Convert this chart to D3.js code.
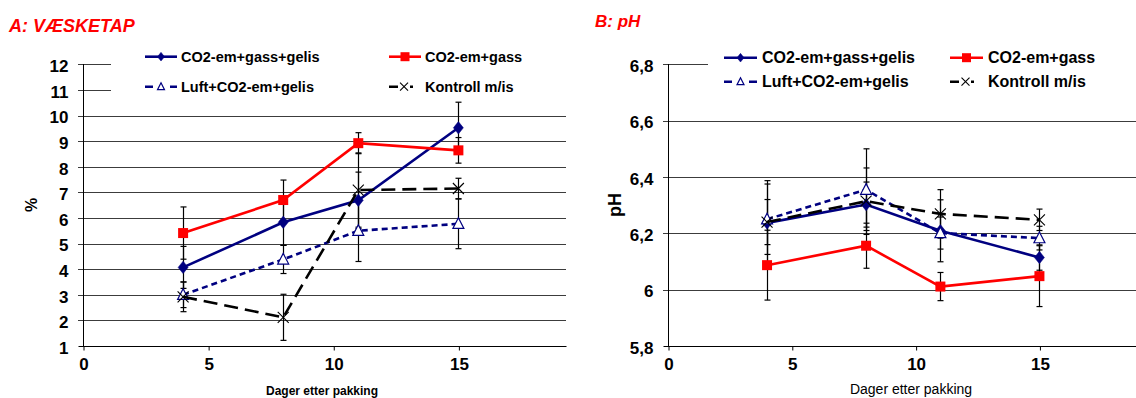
<!DOCTYPE html>
<html>
<head>
<meta charset="utf-8">
<script src="https://cdn.jsdelivr.net/npm/d3@7"></script>
<style>
  html, body { margin: 0; padding: 0; background: #fff; }
  svg { display: block; }
  text { font-family: "Liberation Sans", Arial, sans-serif; }
</style>
</head>
<body>
<svg id="chart" width="1136" height="398"></svg>
<script>
// ---------- DATA ----------
const days = [4, 8, 11, 15];
const xTicks = [0, 5, 10, 15];
const seriesNames = ["CO2-em+gass+gelis", "CO2-em+gass", "Luft+CO2-em+gelis", "Kontroll m/is"];

// A: Væsketap (%)
const aTicks = [1, 2, 3, 4, 5, 6, 7, 8, 9, 10, 11, 12];
const aGelis = [4.07, 5.83, 6.69, 9.52];
const aGass = [5.41, 6.70, 8.92, 8.64];
const aLuft = [3.00, 4.38, 5.50, 5.77];
const aKontroll = [2.92, 2.12, 7.09, 7.15];
const aGelisErr = [0.82, 0.90, 1.10, 1.00];
const aGassErr = [1.02, 0.78, 0.41, 0.50];
const aLuftErr = [0.50, 0.55, 1.20, 0.97];
const aKontrollErr = [0.58, 0.90, 1.45, 0.40];

// B: pH
const bTicks = [5.8, 6.0, 6.2, 6.4, 6.6, 6.8];
const bTickLabels = ["5,8", "6", "6,2", "6,4", "6,6", "6,8"];
const bGelis = [6.237, 6.302, 6.209, 6.114];
const bGass = [6.087, 6.156, 6.011, 6.048];
const bLuft = [6.250, 6.355, 6.201, 6.183];
const bKontroll = [6.240, 6.314, 6.269, 6.248];
const bGelisErr = [0.150, 0.080, 0.110, 0.045];
const bGassErr = [0.124, 0.080, 0.050, 0.108];
const bLuftErr = [0.125, 0.145, 0.057, 0.042];
const bKontrollErr = [0.080, 0.118, 0.086, 0.038];

// ---------- STYLES ----------
const styles = [
  { color: "#000080", dash: null, marker: "diamond" },
  { color: "#FF0000", dash: null, marker: "square" },
  { color: "#000080", dash: "6,4", marker: "triangle" },
  { color: "#000000", dash: "14,7", marker: "cross" }
];
const legendDash = [null, null, "8,17,8", "9,12,3,9"];

const svg = d3.select("#chart");
const FONT = '"Liberation Sans", Arial, sans-serif';

function drawMarker(g, type, cx, cy, s, color) {
  if (type === "diamond") {
    g.append("path").attr("d", `M${cx},${cy - s * 0.62}L${cx + s * 0.5},${cy}L${cx},${cy + s * 0.62}L${cx - s * 0.5},${cy}Z`)
      .attr("fill", color).attr("stroke", color).attr("stroke-width", 0.5);
  } else if (type === "square") {
    g.append("rect").attr("x", cx - s / 2).attr("y", cy - s / 2).attr("width", s).attr("height", s)
      .attr("fill", color);
  } else if (type === "triangle") {
    g.append("path").attr("d", `M${cx},${cy - s * 0.55}L${cx + s * 0.5},${cy + s * 0.42}L${cx - s * 0.5},${cy + s * 0.42}Z`)
      .attr("fill", "#fff").attr("stroke", color).attr("stroke-width", 1.2);
  } else if (type === "cross") {
    const h = s / 2;
    g.append("path").attr("d", `M${cx - h},${cy - h}L${cx + h},${cy + h}M${cx - h},${cy + h}L${cx + h},${cy - h}`)
      .attr("fill", "none").attr("stroke", color).attr("stroke-width", 1.1);
  }
}

function drawChart(cfg) {
  const g = svg.append("g");
  const x = d3.scaleLinear().domain(cfg.xDomain).range([cfg.left, cfg.right]);
  const y = d3.scaleLinear().domain(cfg.yDomain).range([cfg.bottom, cfg.top]);

  // gridlines (with tick extension to the left)
  g.append("g").selectAll("line").data(cfg.yTicks.slice(1)).join("line")
    .attr("x1", cfg.left - 5).attr("x2", cfg.right)
    .attr("y1", d => Math.round(y(d)) + 0.5).attr("y2", d => Math.round(y(d)) + 0.5)
    .attr("stroke", "#3c3c3c").attr("stroke-width", 1);

  // legend background (covers upper gridlines)
  g.append("rect").attr("x", cfg.legendBox[0]).attr("y", cfg.legendBox[1])
    .attr("width", cfg.legendBox[2]).attr("height", cfg.legendBox[3]).attr("fill", "#fff");

  // y axis
  const yAxis = d3.axisLeft(y).tickValues(cfg.yTicks).tickSize(5).tickPadding(cfg.yPad)
    .tickFormat((d, i) => cfg.yLabels[i]);
  const ya = g.append("g").attr("transform", `translate(${cfg.left + 0.5},0.5)`).call(yAxis);
  ya.select(".domain").remove();
  ya.selectAll("line").remove();
  ya.selectAll("text").attr("font-family", FONT).attr("font-size", cfg.tickFs).attr("font-weight", "bold")
    .attr("fill", "#000").attr("dy", "0.4em");
  g.append("line").attr("x1", cfg.left + 0.5).attr("x2", cfg.left + 0.5)
    .attr("y1", Math.round(y(cfg.yDomain[1]))).attr("y2", Math.round(y(cfg.yDomain[0])) + 1)
    .attr("stroke", "#000").attr("stroke-width", 1);

  // x axis
  const xAxis = d3.axisBottom(x).tickValues(xTicks).tickSize(4).tickPadding(7);
  const xa = g.append("g").attr("transform", `translate(0.5,${Math.round(y(cfg.yDomain[0])) + 0.5})`).call(xAxis);
  xa.select(".domain").attr("d", `M${cfg.left - 5},0H${cfg.right}`).attr("stroke", "#000");
  xa.selectAll(".tick line").attr("stroke", "#000");
  xa.selectAll("text").attr("font-family", FONT).attr("font-size", cfg.tickFs).attr("font-weight", "bold").attr("fill", "#000");

  // titles
  g.append("text").attr("x", cfg.titlePos[0]).attr("y", cfg.titlePos[1]).text(cfg.title)
    .attr("font-size", cfg.titleFs).attr("font-weight", "bold").attr("font-style", "italic").attr("fill", "#FF0000");
  g.append("text").attr("transform", `translate(${cfg.yTitlePos[0]},${cfg.yTitlePos[1]}) rotate(-90)`)
    .attr("text-anchor", "middle").attr("dominant-baseline", "central")
    .attr("font-size", cfg.yTitleFs).attr("font-weight", "bold").text(cfg.yTitle);
  g.append("text").attr("x", cfg.xTitlePos[0]).attr("y", cfg.xTitlePos[1]).attr("text-anchor", "middle")
    .attr("font-size", cfg.xTitleFs).attr("font-weight", cfg.xTitleWeight).text("Dager etter pakking");

  // error bars
  const eg = g.append("g");
  cfg.series.forEach((vals, si) => {
    vals.forEach((v, i) => {
      const e = cfg.errors[si][i];
      const cx = Math.round(x(days[i])) + 0.5;
      const y1 = y(v + e), y2 = y(v - e);
      eg.append("line").attr("x1", cx).attr("x2", cx).attr("y1", y1).attr("y2", y2)
        .attr("stroke", "#000").attr("stroke-width", 1.2);
      [y1, y2].forEach(yy => eg.append("line").attr("x1", cx - 3).attr("x2", cx + 3).attr("y1", yy).attr("y2", yy)
        .attr("stroke", "#000").attr("stroke-width", 1.2));
    });
  });

  // lines + markers
  const line = d3.line().x((d, i) => x(days[i])).y(d => y(d));
  cfg.series.forEach((vals, si) => {
    const st = styles[si];
    g.append("path").datum(vals).attr("d", line).attr("fill", "none")
      .attr("stroke", st.color).attr("stroke-width", 2.6)
      .attr("stroke-dasharray", st.dash);
    const mg = g.append("g");
    vals.forEach((v, i) => drawMarker(mg, st.marker, x(days[i]), y(v), cfg.markerSize[si], st.color));
  });

  // legend
  const lg = g.append("g");
  seriesNames.forEach((name, si) => {
    const col = si % 2, row = Math.floor(si / 2);
    const lx = cfg.legendCols[col], ly = cfg.legendRows[row];
    const st = styles[si];
    lg.append("line").attr("x1", lx).attr("x2", lx + cfg.legendLen).attr("y1", ly).attr("y2", ly)
      .attr("stroke", st.color).attr("stroke-width", 2.6).attr("stroke-dasharray", legendDash[si]);
    const mx = si === 3 ? lx + cfg.legendLen * 0.47 : lx + cfg.legendLen / 2;
    drawMarker(lg, st.marker, mx, ly, cfg.legendMarker[si], st.color);
    lg.append("text").attr("x", lx + cfg.legendLen + cfg.legendGap).attr("y", ly).attr("dy", "0.36em")
      .attr("font-size", cfg.legendFs).attr("font-weight", "bold").text(name);
  });
}

drawChart({
  title: "A: VÆSKETAP", titlePos: [9, 32], titleFs: 18,
  xDomain: [0, 19.3], yDomain: [1, 12], left: 83, right: 566, top: 64.3, bottom: 346,
  yTicks: aTicks, yLabels: aTicks.map(String), yPad: 10, tickFs: 17,
  yTitle: "%", yTitlePos: [31, 205], yTitleFs: 16,
  xTitlePos: [322, 395], xTitleFs: 12, xTitleWeight: "bold",
  series: [aGelis, aGass, aLuft, aKontroll],
  errors: [aGelisErr, aGassErr, aLuftErr, aKontrollErr],
  markerSize: [10, 10, 11, 11],
  legendBox: [111, 38, 460, 68],
  legendCols: [145, 389], legendRows: [56.7, 86.7], legendLen: 32, legendGap: 4,
  legendMarker: [7, 9, 7, 8], legendFs: 14.5
});

drawChart({
  title: "B: pH", titlePos: [595, 27], titleFs: 17,
  xDomain: [0, 18.9], yDomain: [5.8, 6.8], left: 668, right: 1136, top: 64.3, bottom: 346,
  yTicks: bTicks, yLabels: bTickLabels, yPad: 10, tickFs: 17,
  yTitle: "pH", yTitlePos: [615, 205], yTitleFs: 18,
  xTitlePos: [911, 393.5], xTitleFs: 14, xTitleWeight: "normal",
  series: [bGelis, bGass, bLuft, bKontroll],
  errors: [bGelisErr, bGassErr, bLuftErr, bKontrollErr],
  markerSize: [10, 10, 11, 11],
  legendBox: [708, 38, 428, 64],
  legendCols: [724, 950], legendRows: [57.7, 81.7], legendLen: 33, legendGap: 5,
  legendMarker: [7, 9, 7, 8], legendFs: 16
});
</script>
</body>
</html>
